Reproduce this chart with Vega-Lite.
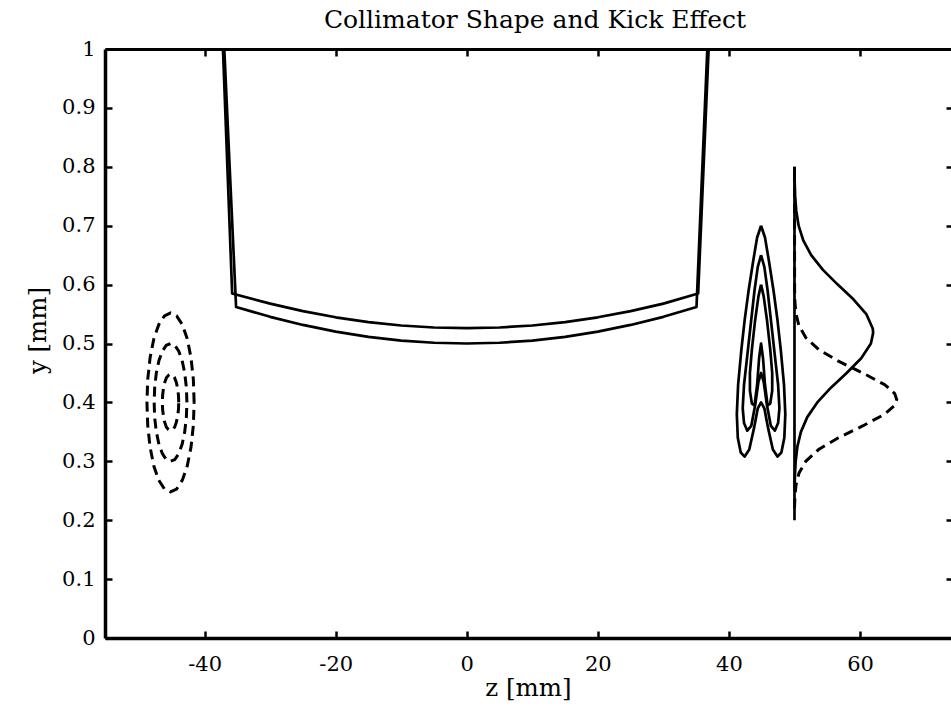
{
  "$schema": "https://vega.github.io/schema/vega-lite/v6.json",
  "width": 846,
  "height": 589,
  "autosize": {"type": "none"},
  "padding": {"left": 105, "top": 49, "right": 0, "bottom": 69},
  "background": "white",
  "title": {"text": "Collimator Shape and Kick Effect", "font": "DejaVu Serif", "fontSize": 25, "fontWeight": "normal", "color": "black", "anchor": "middle", "offset": 5, "dx": 7},
  "config": {
    "view": {"stroke": null},
    "axis": {"grid": false, "domainColor": "black", "tickColor": "black", "labelColor": "black", "titleColor": "black", "labelFont": "DejaVu Serif", "titleFont": "DejaVu Serif", "labelFontSize": 21, "titleFontSize": 24.5, "titleFontWeight": "normal", "tickWidth": 2.5, "domainWidth": 3.5, "labelFlush": false, "labelOverlap": false}
  },
  "datasets": {
    "curves": [
      {"g":"A","s":"solid","i":0,"z":-37.2,"y":1.0},
      {"g":"A","s":"solid","i":1,"z":-36.46,"y":0.78},
      {"g":"A","s":"solid","i":2,"z":-35.8,"y":0.585},
      {"g":"A","s":"solid","i":3,"z":-30,"y":0.5677},
      {"g":"A","s":"solid","i":4,"z":-25,"y":0.5549},
      {"g":"A","s":"solid","i":5,"z":-20,"y":0.5445},
      {"g":"A","s":"solid","i":6,"z":-15,"y":0.5364},
      {"g":"A","s":"solid","i":7,"z":-10,"y":0.5306},
      {"g":"A","s":"solid","i":8,"z":-5,"y":0.5272},
      {"g":"A","s":"solid","i":9,"z":0,"y":0.526},
      {"g":"A","s":"solid","i":10,"z":5,"y":0.5272},
      {"g":"A","s":"solid","i":11,"z":10,"y":0.5306},
      {"g":"A","s":"solid","i":12,"z":15,"y":0.5364},
      {"g":"A","s":"solid","i":13,"z":20,"y":0.5445},
      {"g":"A","s":"solid","i":14,"z":25,"y":0.5549},
      {"g":"A","s":"solid","i":15,"z":30,"y":0.5677},
      {"g":"A","s":"solid","i":16,"z":35.3,"y":0.585},
      {"g":"A","s":"solid","i":17,"z":36.05,"y":0.78},
      {"g":"A","s":"solid","i":18,"z":36.9,"y":1.0},
      {"g":"B","s":"solid","i":0,"z":-37.0,"y":1.0},
      {"g":"B","s":"solid","i":1,"z":-36.1,"y":0.78},
      {"g":"B","s":"solid","i":2,"z":-35.2,"y":0.562},
      {"g":"B","s":"solid","i":3,"z":-30,"y":0.5453},
      {"g":"B","s":"solid","i":4,"z":-25,"y":0.5315},
      {"g":"B","s":"solid","i":5,"z":-20,"y":0.5201},
      {"g":"B","s":"solid","i":6,"z":-15,"y":0.5113},
      {"g":"B","s":"solid","i":7,"z":-10,"y":0.505},
      {"g":"B","s":"solid","i":8,"z":-5,"y":0.5013},
      {"g":"B","s":"solid","i":9,"z":0,"y":0.5},
      {"g":"B","s":"solid","i":10,"z":5,"y":0.5013},
      {"g":"B","s":"solid","i":11,"z":10,"y":0.505},
      {"g":"B","s":"solid","i":12,"z":15,"y":0.5113},
      {"g":"B","s":"solid","i":13,"z":20,"y":0.5201},
      {"g":"B","s":"solid","i":14,"z":25,"y":0.5315},
      {"g":"B","s":"solid","i":15,"z":30,"y":0.5453},
      {"g":"B","s":"solid","i":16,"z":35.05,"y":0.562},
      {"g":"B","s":"solid","i":17,"z":35.87,"y":0.78},
      {"g":"B","s":"solid","i":18,"z":36.7,"y":1.0},
      {"g":"O","s":"solid","i":0,"z":44.9,"y":0.7},
      {"g":"O","s":"solid","i":1,"z":44.3,"y":0.68},
      {"g":"O","s":"solid","i":2,"z":43.7,"y":0.64},
      {"g":"O","s":"solid","i":3,"z":43.0,"y":0.59},
      {"g":"O","s":"solid","i":4,"z":42.4,"y":0.54},
      {"g":"O","s":"solid","i":5,"z":41.9,"y":0.49},
      {"g":"O","s":"solid","i":6,"z":41.4,"y":0.43},
      {"g":"O","s":"solid","i":7,"z":41.2,"y":0.38},
      {"g":"O","s":"solid","i":8,"z":41.35,"y":0.34},
      {"g":"O","s":"solid","i":9,"z":41.8,"y":0.315},
      {"g":"O","s":"solid","i":10,"z":42.4,"y":0.308},
      {"g":"O","s":"solid","i":11,"z":43.1,"y":0.32},
      {"g":"O","s":"solid","i":12,"z":43.8,"y":0.355},
      {"g":"O","s":"solid","i":13,"z":44.4,"y":0.39},
      {"g":"O","s":"solid","i":14,"z":44.9,"y":0.4},
      {"g":"O","s":"solid","i":15,"z":45.4,"y":0.39},
      {"g":"O","s":"solid","i":16,"z":46.0,"y":0.355},
      {"g":"O","s":"solid","i":17,"z":46.7,"y":0.32},
      {"g":"O","s":"solid","i":18,"z":47.4,"y":0.308},
      {"g":"O","s":"solid","i":19,"z":48.0,"y":0.315},
      {"g":"O","s":"solid","i":20,"z":48.45,"y":0.34},
      {"g":"O","s":"solid","i":21,"z":48.6,"y":0.38},
      {"g":"O","s":"solid","i":22,"z":48.4,"y":0.43},
      {"g":"O","s":"solid","i":23,"z":47.9,"y":0.49},
      {"g":"O","s":"solid","i":24,"z":47.4,"y":0.54},
      {"g":"O","s":"solid","i":25,"z":46.8,"y":0.59},
      {"g":"O","s":"solid","i":26,"z":46.1,"y":0.64},
      {"g":"O","s":"solid","i":27,"z":45.5,"y":0.68},
      {"g":"O","s":"solid","i":28,"z":44.9,"y":0.7},
      {"g":"M","s":"solid","i":0,"z":44.9,"y":0.65},
      {"g":"M","s":"solid","i":1,"z":44.4,"y":0.63},
      {"g":"M","s":"solid","i":2,"z":43.9,"y":0.59},
      {"g":"M","s":"solid","i":3,"z":43.4,"y":0.54},
      {"g":"M","s":"solid","i":4,"z":42.8,"y":0.48},
      {"g":"M","s":"solid","i":5,"z":42.3,"y":0.43},
      {"g":"M","s":"solid","i":6,"z":42.1,"y":0.39},
      {"g":"M","s":"solid","i":7,"z":42.3,"y":0.365},
      {"g":"M","s":"solid","i":8,"z":42.8,"y":0.352},
      {"g":"M","s":"solid","i":9,"z":43.4,"y":0.36},
      {"g":"M","s":"solid","i":10,"z":44.0,"y":0.395},
      {"g":"M","s":"solid","i":11,"z":44.5,"y":0.435},
      {"g":"M","s":"solid","i":12,"z":44.9,"y":0.45},
      {"g":"M","s":"solid","i":13,"z":45.3,"y":0.435},
      {"g":"M","s":"solid","i":14,"z":45.8,"y":0.395},
      {"g":"M","s":"solid","i":15,"z":46.4,"y":0.36},
      {"g":"M","s":"solid","i":16,"z":47.0,"y":0.352},
      {"g":"M","s":"solid","i":17,"z":47.5,"y":0.365},
      {"g":"M","s":"solid","i":18,"z":47.7,"y":0.39},
      {"g":"M","s":"solid","i":19,"z":47.5,"y":0.43},
      {"g":"M","s":"solid","i":20,"z":47.0,"y":0.48},
      {"g":"M","s":"solid","i":21,"z":46.4,"y":0.54},
      {"g":"M","s":"solid","i":22,"z":45.9,"y":0.59},
      {"g":"M","s":"solid","i":23,"z":45.4,"y":0.63},
      {"g":"M","s":"solid","i":24,"z":44.9,"y":0.65},
      {"g":"I","s":"solid","i":0,"z":44.9,"y":0.6},
      {"g":"I","s":"solid","i":1,"z":44.5,"y":0.58},
      {"g":"I","s":"solid","i":2,"z":44.0,"y":0.54},
      {"g":"I","s":"solid","i":3,"z":43.5,"y":0.49},
      {"g":"I","s":"solid","i":4,"z":43.2,"y":0.45},
      {"g":"I","s":"solid","i":5,"z":43.2,"y":0.42},
      {"g":"I","s":"solid","i":6,"z":43.5,"y":0.398},
      {"g":"I","s":"solid","i":7,"z":43.9,"y":0.395},
      {"g":"I","s":"solid","i":8,"z":44.3,"y":0.43},
      {"g":"I","s":"solid","i":9,"z":44.6,"y":0.475},
      {"g":"I","s":"solid","i":10,"z":44.9,"y":0.5},
      {"g":"I","s":"solid","i":11,"z":45.2,"y":0.475},
      {"g":"I","s":"solid","i":12,"z":45.5,"y":0.43},
      {"g":"I","s":"solid","i":13,"z":45.9,"y":0.395},
      {"g":"I","s":"solid","i":14,"z":46.3,"y":0.398},
      {"g":"I","s":"solid","i":15,"z":46.6,"y":0.42},
      {"g":"I","s":"solid","i":16,"z":46.6,"y":0.45},
      {"g":"I","s":"solid","i":17,"z":46.3,"y":0.49},
      {"g":"I","s":"solid","i":18,"z":45.8,"y":0.54},
      {"g":"I","s":"solid","i":19,"z":45.3,"y":0.58},
      {"g":"I","s":"solid","i":20,"z":44.9,"y":0.6},
      {"g":"V","s":"solid","i":0,"z":50,"y":0.2},
      {"g":"V","s":"solid","i":1,"z":50,"y":0.8},
      {"g":"P","s":"solid","i":0,"z":50.02,"y":0.25},
      {"g":"P","s":"solid","i":1,"z":50.06,"y":0.275},
      {"g":"P","s":"solid","i":2,"z":50.18,"y":0.3},
      {"g":"P","s":"solid","i":3,"z":50.44,"y":0.325},
      {"g":"P","s":"solid","i":4,"z":50.98,"y":0.35},
      {"g":"P","s":"solid","i":5,"z":51.95,"y":0.375},
      {"g":"P","s":"solid","i":6,"z":53.48,"y":0.4},
      {"g":"P","s":"solid","i":7,"z":55.56,"y":0.425},
      {"g":"P","s":"solid","i":8,"z":57.96,"y":0.45},
      {"g":"P","s":"solid","i":9,"z":60.18,"y":0.475},
      {"g":"P","s":"solid","i":10,"z":61.66,"y":0.5},
      {"g":"P","s":"solid","i":11,"z":62.0,"y":0.518},
      {"g":"P","s":"solid","i":12,"z":61.95,"y":0.525},
      {"g":"P","s":"solid","i":13,"z":60.96,"y":0.55},
      {"g":"P","s":"solid","i":14,"z":58.99,"y":0.575},
      {"g":"P","s":"solid","i":15,"z":56.6,"y":0.6},
      {"g":"P","s":"solid","i":16,"z":54.34,"y":0.625},
      {"g":"P","s":"solid","i":17,"z":52.55,"y":0.65},
      {"g":"P","s":"solid","i":18,"z":51.34,"y":0.675},
      {"g":"P","s":"solid","i":19,"z":50.63,"y":0.7},
      {"g":"P","s":"solid","i":20,"z":50.27,"y":0.725},
      {"g":"P","s":"solid","i":21,"z":50.1,"y":0.75},
      {"g":"P","s":"solid","i":22,"z":50.03,"y":0.775},
      {"g":"P","s":"solid","i":23,"z":50.0,"y":0.8},
      {"g":"D","s":"dashed","i":0,"z":50.0,"y":0.22},
      {"g":"D","s":"dashed","i":1,"z":50.07,"y":0.24},
      {"g":"D","s":"dashed","i":2,"z":50.23,"y":0.26},
      {"g":"D","s":"dashed","i":3,"z":50.69,"y":0.28},
      {"g":"D","s":"dashed","i":4,"z":51.72,"y":0.3},
      {"g":"D","s":"dashed","i":5,"z":53.68,"y":0.32},
      {"g":"D","s":"dashed","i":6,"z":56.7,"y":0.34},
      {"g":"D","s":"dashed","i":7,"z":60.4,"y":0.36},
      {"g":"D","s":"dashed","i":8,"z":63.77,"y":0.38},
      {"g":"D","s":"dashed","i":9,"z":65.29,"y":0.395},
      {"g":"D","s":"dashed","i":10,"z":65.6,"y":0.405},
      {"g":"D","s":"dashed","i":11,"z":65.29,"y":0.415},
      {"g":"D","s":"dashed","i":12,"z":63.77,"y":0.43},
      {"g":"D","s":"dashed","i":13,"z":60.4,"y":0.45},
      {"g":"D","s":"dashed","i":14,"z":56.7,"y":0.47},
      {"g":"D","s":"dashed","i":15,"z":53.68,"y":0.49},
      {"g":"D","s":"dashed","i":16,"z":51.72,"y":0.51},
      {"g":"D","s":"dashed","i":17,"z":50.69,"y":0.53},
      {"g":"D","s":"dashed","i":18,"z":50.23,"y":0.55},
      {"g":"D","s":"dashed","i":19,"z":50.07,"y":0.57},
      {"g":"D","s":"dashed","i":20,"z":50.02,"y":0.59},
      {"g":"D","s":"dashed","i":21,"z":50.0,"y":0.8},
      {"g":"E1","s":"dashed","i":0,"z":-41.6,"y":0.4},
      {"g":"E1","s":"dashed","i":1,"z":-41.72,"y":0.439},
      {"g":"E1","s":"dashed","i":2,"z":-42.08,"y":0.476},
      {"g":"E1","s":"dashed","i":3,"z":-42.65,"y":0.508},
      {"g":"E1","s":"dashed","i":4,"z":-43.4,"y":0.532},
      {"g":"E1","s":"dashed","i":5,"z":-44.27,"y":0.547},
      {"g":"E1","s":"dashed","i":6,"z":-45.2,"y":0.552},
      {"g":"E1","s":"dashed","i":7,"z":-46.13,"y":0.547},
      {"g":"E1","s":"dashed","i":8,"z":-47.0,"y":0.532},
      {"g":"E1","s":"dashed","i":9,"z":-47.75,"y":0.508},
      {"g":"E1","s":"dashed","i":10,"z":-48.32,"y":0.476},
      {"g":"E1","s":"dashed","i":11,"z":-48.68,"y":0.439},
      {"g":"E1","s":"dashed","i":12,"z":-48.8,"y":0.4},
      {"g":"E1","s":"dashed","i":13,"z":-48.68,"y":0.361},
      {"g":"E1","s":"dashed","i":14,"z":-48.32,"y":0.324},
      {"g":"E1","s":"dashed","i":15,"z":-47.75,"y":0.292},
      {"g":"E1","s":"dashed","i":16,"z":-47.0,"y":0.268},
      {"g":"E1","s":"dashed","i":17,"z":-46.13,"y":0.253},
      {"g":"E1","s":"dashed","i":18,"z":-45.2,"y":0.248},
      {"g":"E1","s":"dashed","i":19,"z":-44.27,"y":0.253},
      {"g":"E1","s":"dashed","i":20,"z":-43.4,"y":0.268},
      {"g":"E1","s":"dashed","i":21,"z":-42.65,"y":0.292},
      {"g":"E1","s":"dashed","i":22,"z":-42.08,"y":0.324},
      {"g":"E1","s":"dashed","i":23,"z":-41.72,"y":0.361},
      {"g":"E1","s":"dashed","i":24,"z":-41.6,"y":0.4},
      {"g":"E2","s":"dashed","i":0,"z":-42.7,"y":0.4},
      {"g":"E2","s":"dashed","i":1,"z":-42.79,"y":0.426},
      {"g":"E2","s":"dashed","i":2,"z":-43.04,"y":0.45},
      {"g":"E2","s":"dashed","i":3,"z":-43.43,"y":0.471},
      {"g":"E2","s":"dashed","i":4,"z":-43.95,"y":0.487},
      {"g":"E2","s":"dashed","i":5,"z":-44.55,"y":0.497},
      {"g":"E2","s":"dashed","i":6,"z":-45.2,"y":0.5},
      {"g":"E2","s":"dashed","i":7,"z":-45.85,"y":0.497},
      {"g":"E2","s":"dashed","i":8,"z":-46.45,"y":0.487},
      {"g":"E2","s":"dashed","i":9,"z":-46.97,"y":0.471},
      {"g":"E2","s":"dashed","i":10,"z":-47.37,"y":0.45},
      {"g":"E2","s":"dashed","i":11,"z":-47.62,"y":0.426},
      {"g":"E2","s":"dashed","i":12,"z":-47.7,"y":0.4},
      {"g":"E2","s":"dashed","i":13,"z":-47.62,"y":0.374},
      {"g":"E2","s":"dashed","i":14,"z":-47.37,"y":0.35},
      {"g":"E2","s":"dashed","i":15,"z":-46.97,"y":0.329},
      {"g":"E2","s":"dashed","i":16,"z":-46.45,"y":0.313},
      {"g":"E2","s":"dashed","i":17,"z":-45.85,"y":0.303},
      {"g":"E2","s":"dashed","i":18,"z":-45.2,"y":0.3},
      {"g":"E2","s":"dashed","i":19,"z":-44.55,"y":0.303},
      {"g":"E2","s":"dashed","i":20,"z":-43.95,"y":0.313},
      {"g":"E2","s":"dashed","i":21,"z":-43.43,"y":0.329},
      {"g":"E2","s":"dashed","i":22,"z":-43.04,"y":0.35},
      {"g":"E2","s":"dashed","i":23,"z":-42.79,"y":0.374},
      {"g":"E2","s":"dashed","i":24,"z":-42.7,"y":0.4},
      {"g":"E3","s":"dashed","i":0,"z":-43.95,"y":0.4},
      {"g":"E3","s":"dashed","i":1,"z":-43.99,"y":0.412},
      {"g":"E3","s":"dashed","i":2,"z":-44.12,"y":0.424},
      {"g":"E3","s":"dashed","i":3,"z":-44.32,"y":0.434},
      {"g":"E3","s":"dashed","i":4,"z":-44.58,"y":0.442},
      {"g":"E3","s":"dashed","i":5,"z":-44.88,"y":0.446},
      {"g":"E3","s":"dashed","i":6,"z":-45.2,"y":0.448},
      {"g":"E3","s":"dashed","i":7,"z":-45.52,"y":0.446},
      {"g":"E3","s":"dashed","i":8,"z":-45.83,"y":0.442},
      {"g":"E3","s":"dashed","i":9,"z":-46.08,"y":0.434},
      {"g":"E3","s":"dashed","i":10,"z":-46.28,"y":0.424},
      {"g":"E3","s":"dashed","i":11,"z":-46.41,"y":0.412},
      {"g":"E3","s":"dashed","i":12,"z":-46.45,"y":0.4},
      {"g":"E3","s":"dashed","i":13,"z":-46.41,"y":0.388},
      {"g":"E3","s":"dashed","i":14,"z":-46.28,"y":0.376},
      {"g":"E3","s":"dashed","i":15,"z":-46.08,"y":0.366},
      {"g":"E3","s":"dashed","i":16,"z":-45.83,"y":0.358},
      {"g":"E3","s":"dashed","i":17,"z":-45.52,"y":0.354},
      {"g":"E3","s":"dashed","i":18,"z":-45.2,"y":0.352},
      {"g":"E3","s":"dashed","i":19,"z":-44.88,"y":0.354},
      {"g":"E3","s":"dashed","i":20,"z":-44.58,"y":0.358},
      {"g":"E3","s":"dashed","i":21,"z":-44.32,"y":0.366},
      {"g":"E3","s":"dashed","i":22,"z":-44.12,"y":0.376},
      {"g":"E3","s":"dashed","i":23,"z":-43.99,"y":0.388},
      {"g":"E3","s":"dashed","i":24,"z":-43.95,"y":0.4}
    ]
  },
  "data": {"name": "curves"},
  "resolve": {"axis": {"x": "independent", "y": "independent"}},
  "layer": [
    {
      "transform": [{"filter": "datum.s === 'solid'"}],
      "mark": {"type": "line", "color": "black", "strokeWidth": 2.7, "strokeJoin": "round", "clip": true},
      "encoding": {
        "x": {"field": "z", "type": "quantitative", "scale": {"domain": [-55.2, 73.88], "nice": false, "zero": false},
              "axis": {"orient": "bottom", "values": [-40, -20, 0, 20, 40, 60], "labelExpr": "'' + datum.value", "title": "z [mm]", "tickSize": -7, "labelPadding": 22, "titleBaseline": "alphabetic", "titleY": 57}},
        "y": {"field": "y", "type": "quantitative", "scale": {"domain": [0, 1], "nice": false, "zero": false},
              "axis": {"orient": "left", "values": [0, 0.1, 0.2, 0.3, 0.4, 0.5, 0.6, 0.7, 0.8, 0.9, 1], "format": "~g", "title": "y [mm]", "tickSize": -7, "labelPadding": 17, "titleX": -67, "titleY": 281, "titleBaseline": "middle"}},
        "detail": {"field": "g"},
        "order": {"field": "i", "type": "quantitative"}
      }
    },
    {
      "transform": [{"filter": "datum.s === 'dashed'"}],
      "mark": {"type": "line", "color": "black", "strokeWidth": 3, "strokeDash": [10, 6], "clip": true},
      "encoding": {
        "x": {"field": "z", "type": "quantitative", "scale": {"domain": [-55.2, 73.88], "nice": false, "zero": false},
              "axis": {"orient": "top", "values": [-40, -20, 0, 20, 40, 60], "labels": false, "title": null, "tickSize": -7, "domainWidth": 3}},
        "y": {"field": "y", "type": "quantitative", "scale": {"domain": [0, 1], "nice": false, "zero": false},
              "axis": {"orient": "right", "values": [0, 0.1, 0.2, 0.3, 0.4, 0.5, 0.6, 0.7, 0.8, 0.9, 1], "labels": false, "title": null, "tickSize": -5, "domain": false}},
        "detail": {"field": "g"},
        "order": {"field": "i", "type": "quantitative"}
      }
    }
  ]
}
